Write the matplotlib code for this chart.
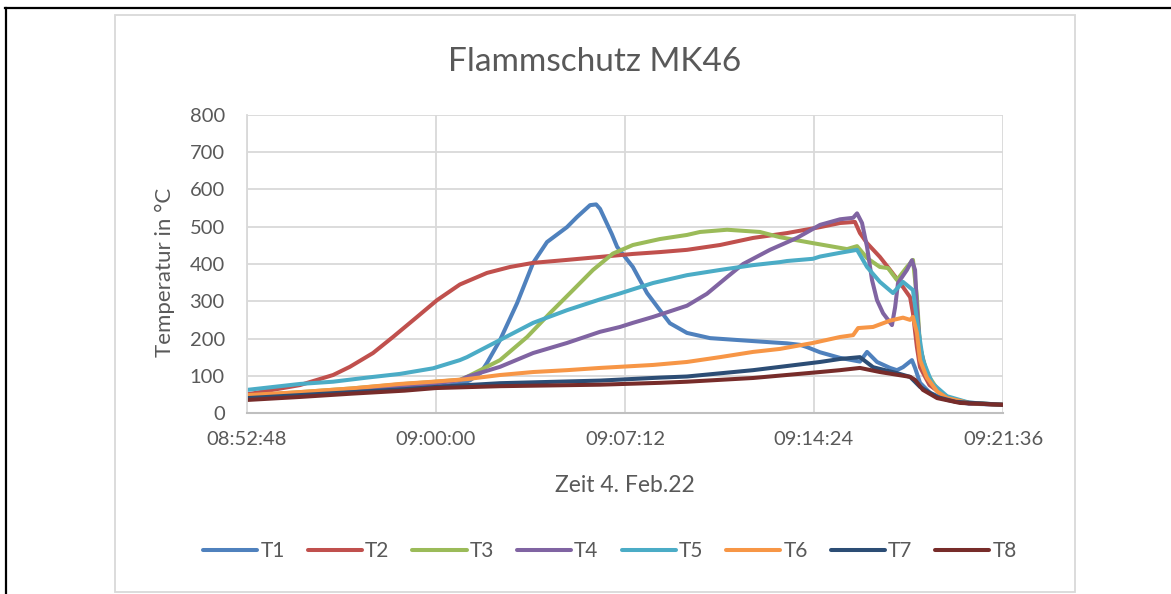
import matplotlib
matplotlib.use("Agg")
import matplotlib.pyplot as plt
from matplotlib.lines import Line2D
from matplotlib.patches import Rectangle

# time axis: minutes after 08:52:48, values in degC
tick_pos = [0, 7.2, 14.4, 21.6, 28.8]
tick_labels = ["08:52:48", "09:00:00", "09:07:12", "09:14:24", "09:21:36"]

t1_min = [0, 2.0, 4.0, 6.0, 7.2, 8.1, 8.5, 8.9, 9.14, 9.64, 10.29, 10.9, 11.43, 12.19, 12.57,
          13.07, 13.3, 13.45, 13.9, 14.1, 14.7, 15.24, 15.73, 16.11, 16.76, 17.64, 18.67, 19.92,
          20.57, 21.07, 21.33, 21.83, 22.59, 23.35, 23.62, 24.0, 24.5, 24.76, 24.99, 25.33, 25.45,
          25.64, 26.02, 26.67, 27.5, 28.8]
t1_val = [40, 48, 56, 64, 70, 78, 88, 108, 134, 196, 295, 403, 459, 499, 526,
          558, 560, 548, 480, 446, 392, 322, 276, 241, 215, 201, 196, 190,
          187, 183, 177, 163, 148, 138, 164, 137, 121, 115, 123, 142, 121,
          81, 54, 35, 25, 22]

t2_min = [0, 2.02, 3.28, 3.92, 4.8, 5.56, 6.48, 7.24, 8.11, 9.14, 10.02, 10.9, 12.19, 13.45,
          14.7, 15.73, 16.76, 18.02, 19.28, 20.57, 21.83, 22.59, 23.16, 23.35, 23.62, 24.11,
          24.5, 24.88, 25.26, 25.37, 25.52, 25.64, 26.0, 26.67, 27.5, 28.8]
t2_val = [50, 75, 102, 124, 161, 204, 258, 303, 345, 376, 392, 403, 411, 419,
          427, 432, 438, 451, 470, 483, 499, 510, 513, 483, 456, 419,
          384, 349, 311, 268, 177, 123, 75, 40, 26, 22]

t3_min = [0, 2.0, 4.0, 6.0, 7.2, 8.11, 8.38, 9.64, 10.67, 11.54, 12.42, 13.18, 13.94, 14.7,
          15.73, 16.76, 17.26, 18.29, 19.54, 20.3, 21.56, 22.86, 23.24, 23.62, 24.11, 24.42,
          24.76, 25.14, 25.37, 25.52, 25.64, 25.9, 26.29, 26.67, 27.5, 28.8]
t3_val = [46, 56, 66, 78, 84, 89, 97, 142, 204, 268, 330, 384, 428, 451,
          467, 478, 486, 492, 486, 472, 456, 440, 448, 416, 392, 389,
          357, 392, 411, 311, 177, 107, 65, 42, 27, 22]

t4_min = [0, 2.0, 4.0, 6.0, 7.2, 8.11, 8.38, 9.64, 10.9, 12.19, 13.45, 14.21, 14.7, 15.47,
          16.76, 17.52, 18.29, 18.9, 19.92, 20.95, 21.83, 22.59, 23.09, 23.24, 23.43, 23.62,
          23.81, 24.0, 24.23, 24.57, 24.69, 24.8, 25.14, 25.33, 25.45, 25.52, 25.64, 25.9,
          26.29, 26.67, 27.5, 28.8]
t4_val = [42, 52, 60, 72, 80, 88, 97, 124, 161, 188, 218, 231, 242, 258,
          288, 320, 365, 400, 438, 470, 505, 520, 524, 536, 510, 446,
          357, 303, 268, 236, 284, 349, 384, 410, 384, 284, 177, 100,
          60, 40, 26, 22]

t5_min = [0, 2.02, 3.28, 4.57, 5.83, 7.09, 8.11, 8.38, 9.64, 10.9, 12.19, 13.45, 14.21, 14.7,
          15.47, 16.76, 18.02, 19.28, 20.3, 20.57, 21.56, 21.83, 22.59, 23.24, 23.62, 24.11,
          24.61, 24.99, 25.37, 25.52, 25.75, 26.1, 26.67, 27.5, 28.8]
t5_val = [62, 78, 84, 95, 105, 120, 142, 150, 196, 242, 276, 305, 321, 332,
          349, 370, 384, 397, 405, 408, 414, 420, 430, 438, 392, 352,
          322, 352, 330, 250, 142, 80, 45, 28, 22]

t6_min = [0, 2.0, 4.0, 5.83, 7.09, 8.38, 9.64, 10.9, 12.19, 13.45, 15.47, 16.76, 18.02, 19.28,
          20.3, 21.56, 22.59, 23.09, 23.28, 23.85, 24.5, 24.99, 25.26, 25.37, 25.52, 25.64,
          25.9, 26.29, 26.67, 27.5, 28.8]
t6_val = [48, 56, 66, 78, 84, 91, 102, 110, 115, 121, 129, 137, 150, 164,
          172, 188, 204, 209, 228, 231, 248, 256, 250, 258, 215, 142,
          95, 58, 40, 27, 22]

t7_min = [0, 2.0, 4.0, 6.0, 7.2, 9.64, 13.45, 15.73, 16.76, 19.28, 21.83, 22.59, 23.35, 23.85,
          24.76, 25.26, 25.64, 26.29, 27.0, 28.8]
t7_val = [40, 48, 56, 64, 70, 80, 87, 95, 98, 115, 137, 145, 150, 123,
          107, 97, 70, 43, 30, 22]

t8_min = [0, 2.0, 4.0, 6.0, 7.2, 9.64, 13.45, 15.73, 16.76, 19.28, 21.83, 22.59, 23.35, 24.11,
          25.26, 25.45, 25.75, 26.29, 27.16, 28.8]
t8_val = [35, 43, 52, 60, 67, 72, 76, 81, 84, 94, 110, 115, 121, 110,
          97, 89, 62, 40, 27, 22]

names = ["T1", "T2", "T3", "T4", "T5", "T6", "T7", "T8"]
colors = ["#4F81BD", "#C0504D", "#9BBB59", "#8064A2", "#4BACC6", "#F79646", "#2C4D75", "#772C2A"]
series = [(t1_min, t1_val), (t2_min, t2_val), (t3_min, t3_val), (t4_min, t4_val),
          (t5_min, t5_val), (t6_min, t6_val), (t7_min, t7_val), (t8_min, t8_val)]

text_col = "#595959"
plt.rcParams['font.family'] = ['Lato', 'DejaVu Sans']

fig = plt.figure(figsize=(11.71, 5.94), dpi=100)
ax = fig.add_axes([247 / 1171, 1 - 413 / 594, 756 / 1171, 298 / 594])

for (x, y), name, c in zip(series, names, colors):
    ax.plot(x, y, color=c, lw=2.9, label=name, solid_capstyle='round', solid_joinstyle='round')

ax.set_xlim(0, 28.8)
ax.set_ylim(0, 800)
ax.set_xticks(tick_pos)
ax.set_xticklabels(tick_labels)
ax.set_yticks(range(0, 801, 100))
ax.grid(True, color="#D9D9D9", lw=1.3)
ax.set_axisbelow(True)
for s in ["top", "right"]:
    ax.spines[s].set_visible(False)
ax.spines["left"].set_color("#D9D9D9")
ax.spines["left"].set_linewidth(1.3)
ax.spines["bottom"].set_color("#BFBFBF")
ax.spines["bottom"].set_linewidth(1.5)
ax.tick_params(length=0, labelsize=14.5, colors=text_col)
ax.tick_params(axis="x", pad=13)
ax.tick_params(axis="y", pad=16)

fig.text(595 / 1171, 1 - 62 / 594, "Flammschutz MK46", ha="center", va="center", fontsize=24, color=text_col)
fig.text(165 / 1171, 1 - 272 / 594, "Temperatur in °C", ha="center", va="center", rotation=90,
         fontsize=16, color=text_col)
fig.text(625 / 1171, 1 - 485 / 594, "Zeit 4. Feb.22", ha="center", va="center", fontsize=16.5, color=text_col)

fig.legend(loc="center", bbox_to_anchor=(610 / 1171, 1 - 551 / 594), ncol=8, frameon=False,
           fontsize=15, handlelength=2.6, columnspacing=1.1, handletextpad=0.15, labelcolor=text_col)

# chart frame and black outer lines
fig.add_artist(Rectangle((115 / 1171, 1 - 592 / 594), 960 / 1171, 577 / 594, transform=fig.transFigure,
                         fill=False, edgecolor="#D9D9D9", lw=1.3))
fig.add_artist(Line2D([5 / 1171, 1170 / 1171], [1 - 7.5 / 594, 1 - 7.5 / 594], transform=fig.transFigure,
                      color="black", lw=1.6))
fig.add_artist(Line2D([6 / 1171, 6 / 1171], [0, 1 - 7.5 / 594], transform=fig.transFigure,
                      color="black", lw=1.6))

fig.savefig("out.png", dpi=100)
